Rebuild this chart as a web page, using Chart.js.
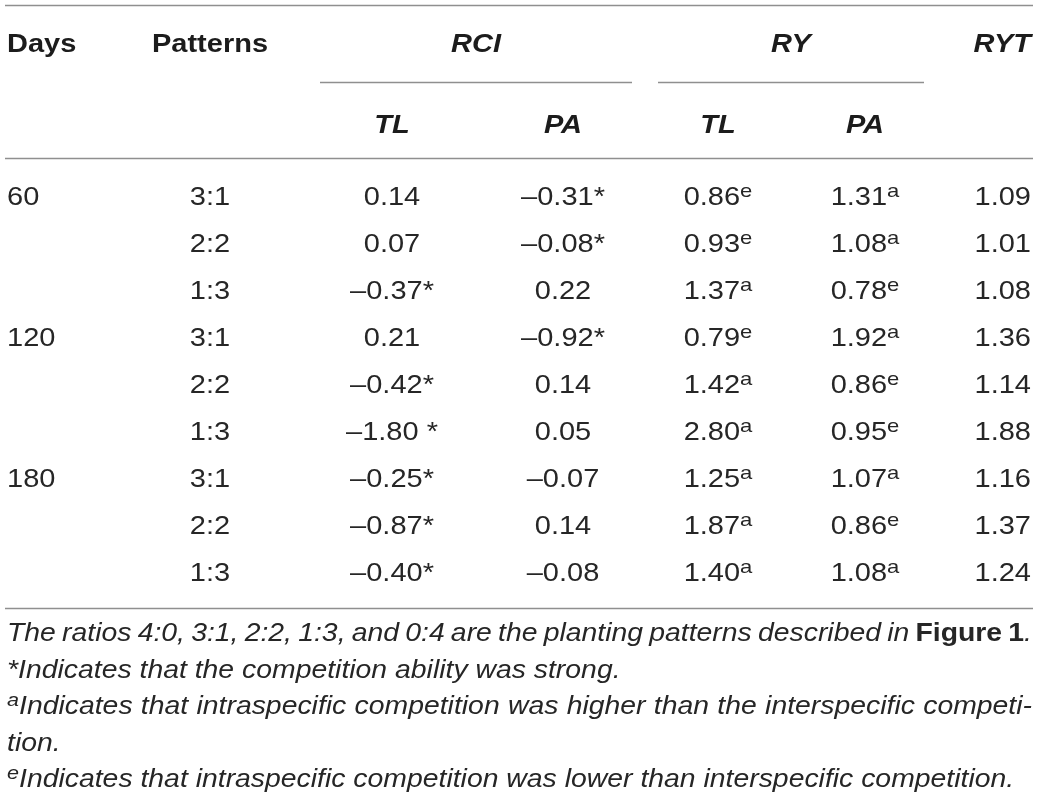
<!DOCTYPE html>
<html><head><meta charset="utf-8">
<script src="https://cdn.jsdelivr.net/npm/chart.js@4.4.1/dist/chart.umd.min.js"></script>
<style>html,body{margin:0;padding:0;background:#fff;}#wrap{width:1040px;height:806px;}</style>
</head><body><div id="wrap"><canvas id="c" width="1040" height="806"></canvas></div>
<script>
// ---------- DATA ----------
const days      = ['60', '', '', '120', '', '', '180', '', ''];
const patterns  = ['3:1', '2:2', '1:3', '3:1', '2:2', '1:3', '3:1', '2:2', '1:3'];
const rciTL     = [0.14, 0.07, -0.37, 0.21, -0.42, -1.80, -0.25, -0.87, -0.40];
const rciTLMark = ['', '', '*', '', '*', ' *', '*', '*', '*'];
const rciPA     = [-0.31, -0.08, 0.22, -0.92, 0.14, 0.05, -0.07, 0.14, -0.08];
const rciPAMark = ['*', '*', '', '*', '', '', '', '', ''];
const ryTL      = [0.86, 0.93, 1.37, 0.79, 1.42, 2.80, 1.25, 1.87, 1.40];
const ryTLSup   = ['e', 'e', 'a', 'e', 'a', 'a', 'a', 'a', 'a'];
const ryPA      = [1.31, 1.08, 0.78, 1.92, 0.86, 0.95, 1.07, 0.86, 1.08];
const ryPASup   = ['a', 'a', 'e', 'a', 'e', 'e', 'a', 'e', 'a'];
const ryt       = [1.09, 1.01, 1.08, 1.36, 1.14, 1.88, 1.16, 1.37, 1.24];
const topHeaders   = ['Days', 'Patterns', 'RCI', 'RY', 'RYT'];
const subHeaders   = ['TL', 'PA', 'TL', 'PA'];
const footnoteLines = [
  [{t: 'The ratios 4:0, 3:1, 2:2, 1:3, and 0:4 are the planting patterns described in '}, {t: 'Figure 1', bold: true}, {t: '.'}],
  [{t: '*Indicates that the competition ability was strong.'}],
  [{t: 'a', sup: true}, {t: 'Indicates that intraspecific competition was higher than the interspecific competi-'}],
  [{t: 'tion.'}],
  [{t: 'e', sup: true}, {t: 'Indicates that intraspecific competition was lower than interspecific competition.'}]
];
const footnoteJustify = [true, false, true, false, false];

// ---------- LAYOUT / STYLE ----------
const W = 1040, H = 806;
const SX = 1.16;                 // horizontal stretch of the reference typesetting
const FS = 25;                   // font size
const FAM = '"Liberation Sans", Arial, Helvetica, sans-serif';
const colX     = [7, 210, 392, 563, 718, 865, 1031];
const colAlign = ['left', 'center', 'center', 'center', 'center', 'center', 'right'];
const rowBase0 = 205, rowStep = 47;
const headBase = 52, subBase = 133;
const groupSpan = [[320, 632], [658, 924]];
const rules = {top: 5, group: 82, head: 158, bottom: 608, left: 5, right: 1033};
const footBase0 = 641, footStep = 36.5, footLeft = 7, footRight = 1032, footSX = 1.135;
const TXT = '#262626', HEAD = '#1c1c1c', RULE = '#8f8f8f';

function fmt(v) { const s = Math.abs(v).toFixed(2); return v < 0 ? '\u2013' + s : s; }
const rowY = r => rowBase0 + r * rowStep;

const F = (w, it, sz) => (it ? 'italic ' : '') + (w || '') + ' ' + (sz || FS) + 'px ' + FAM;
const supSeg = t => ({t, font: F('', false, 19), dy: -8});

// cell content per column (segments)
const bodyCols = [
  days.map(t => [{t, font: F()}]),
  patterns.map(t => [{t, font: F()}]),
  rciTL.map((v, i) => [{t: fmt(v) + rciTLMark[i], font: F()}]),
  rciPA.map((v, i) => [{t: fmt(v) + rciPAMark[i], font: F()}]),
  ryTL.map((v, i) => [{t: fmt(v), font: F()}, supSeg(ryTLSup[i])]),
  ryPA.map((v, i) => [{t: fmt(v), font: F()}, supSeg(ryPASup[i])]),
  ryt.map(v => [{t: fmt(v), font: F()}])
];

const datasets = [];
bodyCols.forEach((cells, c) => {
  datasets.push({
    label: 'col' + c,
    data: cells.map((_, r) => ({x: colX[c], y: rowY(r)})),
    cells, align: colAlign[c], color: TXT, pointRadius: 0
  });
});
// header rows
const headX = [colX[0], colX[1], (groupSpan[0][0] + groupSpan[0][1]) / 2, (groupSpan[1][0] + groupSpan[1][1]) / 2, colX[6]];
const headAl = ['left', 'center', 'center', 'center', 'right'];
const headIt = [false, false, true, true, true];
datasets.push({
  label: 'head',
  data: topHeaders.map((_, i) => ({x: headX[i], y: headBase})),
  cellsFlat: topHeaders.map((t, i) => [{t, font: F('bold', headIt[i])}]),
  alignArr: headAl, color: HEAD, pointRadius: 0
});
datasets.push({
  label: 'sub',
  data: subHeaders.map((_, i) => ({x: colX[i + 2], y: subBase})),
  cellsFlat: subHeaders.map(t => [{t, font: F('bold', true)}]),
  alignArr: subHeaders.map(() => 'center'), color: HEAD, pointRadius: 0
});

function drawRich(ctx, segs, x, y, align, sx) {
  let w = 0;
  segs.forEach(s => { ctx.font = s.font; s.w = ctx.measureText(s.t).width * sx; w += s.w; });
  let cx = align === 'left' ? x : align === 'right' ? x - w : x - w / 2;
  segs.forEach(s => {
    ctx.save(); ctx.translate(cx, y + (s.dy || 0)); ctx.scale(sx, 1);
    ctx.font = s.font; ctx.fillText(s.t, 0, 0); ctx.restore();
    cx += s.w;
  });
}

const tablePlugin = {
  id: 'tablePlugin',
  afterDatasetsDraw(chart) {
    const ctx = chart.ctx, xs = chart.scales.x, ys = chart.scales.y;
    ctx.save();
    // rules
    ctx.strokeStyle = RULE; ctx.lineWidth = 1.3;
    const hl = (x0, x1, y) => { const py = Math.round(ys.getPixelForValue(y)) + 0.5; ctx.beginPath(); ctx.moveTo(xs.getPixelForValue(x0), py); ctx.lineTo(xs.getPixelForValue(x1), py); ctx.stroke(); };
    hl(rules.left, rules.right, rules.top);
    groupSpan.forEach(g => hl(g[0], g[1], rules.group));
    hl(rules.left, rules.right, rules.head);
    hl(rules.left, rules.right, rules.bottom);
    // cells
    ctx.textBaseline = 'alphabetic';
    chart.data.datasets.forEach((ds, di) => {
      const meta = chart.getDatasetMeta(di);
      ctx.fillStyle = ds.color;
      meta.data.forEach((el, i) => {
        const segs = ds.cells ? ds.cells[i] : ds.cellsFlat[i];
        const al = ds.align || ds.alignArr[i];
        drawRich(ctx, segs.map(s => Object.assign({}, s)), el.x, el.y, al, SX);
      });
    });
    // footnotes
    ctx.fillStyle = TXT;
    footnoteLines.forEach((line, li) => {
      const y = ys.getPixelForValue(footBase0 + li * footStep);
      const x0 = xs.getPixelForValue(footLeft), x1 = xs.getPixelForValue(footRight);
      const toks = [];
      line.forEach(seg => {
        const font = seg.sup ? F('', true, 19) : seg.bold ? F('bold', false) : F('', true);
        const dy = seg.sup ? -8 : 0;
        if (seg.sup) { toks.push({t: seg.t, font, dy}); return; }
        seg.t.split(/( )/).forEach(p => { if (p === '') return; toks.push({t: p, font, dy, space: p === ' '}); });
      });
      let nat = 0, nsp = 0;
      toks.forEach(k => { ctx.font = k.font; k.w = ctx.measureText(k.t).width * footSX; nat += k.w; if (k.space) nsp++; });
      const extra = (footnoteJustify[li] && nsp) ? (x1 - x0 - nat) / nsp : 0;
      let cx = x0;
      toks.forEach(k => {
        if (!k.space) {
          ctx.save(); ctx.translate(cx, y + k.dy); ctx.scale(footSX, 1); ctx.font = k.font; ctx.fillText(k.t, 0, 0); ctx.restore();
        }
        cx += k.w + (k.space ? extra : 0);
      });
    });
    ctx.restore();
  }
};

new Chart(document.getElementById('c'), {
  type: 'scatter',
  data: {datasets},
  options: {
    responsive: false, animation: false, devicePixelRatio: 1, events: [],
    layout: {padding: 0},
    plugins: {legend: {display: false}, tooltip: {enabled: false}, title: {display: false}},
    scales: {
      x: {type: 'linear', min: 0, max: W, display: false},
      y: {type: 'linear', min: 0, max: H, reverse: true, display: false}
    },
    elements: {point: {radius: 0, hoverRadius: 0}}
  },
  plugins: [tablePlugin]
});
</script>
</body></html>
